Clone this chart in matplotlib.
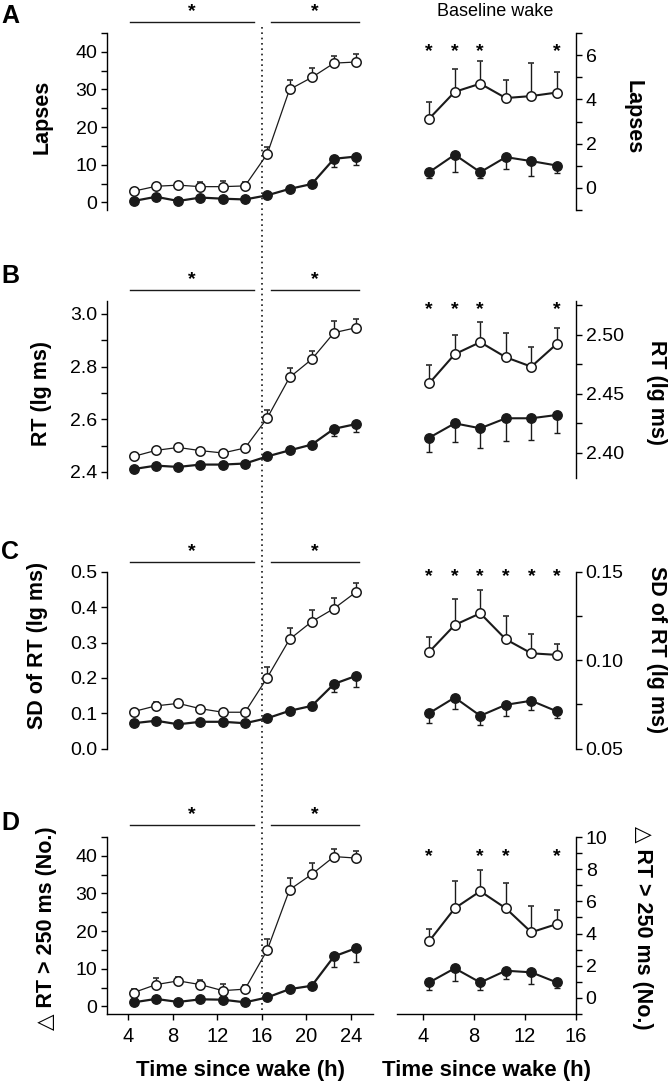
import matplotlib
matplotlib.use('Agg')
import matplotlib.pyplot as plt
from matplotlib.lines import Line2D
from matplotlib.ticker import MultipleLocator, FormatStrFormatter, NullLocator
from matplotlib.transforms import blended_transform_factory

plt.rcParams['font.family'] = ['Liberation Sans', 'DejaVu Sans']

# ---- data ----
hours_l = [4.5, 6.5, 8.5, 10.5, 12.5, 14.5, 16.5, 18.5, 20.5, 22.5, 24.5]
hours_r = [4.5, 6.5, 8.5, 10.5, 12.5, 14.5]

lapses_open = [3.0, 4.3, 4.6, 4.2, 4.2, 4.4, 12.9, 30.0, 33.2, 37.0, 37.3]
lapses_open_err = [0.8, 0.8, 0.9, 1.2, 1.5, 1.0, 1.9, 2.4, 2.4, 1.8, 2.2]
lapses_fill = [0.4, 1.5, 0.4, 1.3, 1.0, 0.8, 1.9, 3.6, 4.9, 11.6, 12.2]
lapses_fill_err = [0.4, 0.6, 0.4, 0.5, 0.5, 0.4, 0.5, 0.6, 0.8, 2.3, 2.3]
lapses_b_open = [3.13, 4.34, 4.71, 4.06, 4.15, 4.31]
lapses_b_open_err = [0.75, 1.05, 1.02, 0.80, 1.50, 0.92]
lapses_b_fill = [0.71, 1.50, 0.71, 1.39, 1.21, 1.01]
lapses_b_fill_err = [0.27, 0.76, 0.27, 0.53, 0.68, 0.35]

rt_open = [2.459, 2.482, 2.493, 2.481, 2.472, 2.491, 2.605, 2.759, 2.828, 2.929, 2.948]
rt_open_err = [0.006, 0.006, 0.006, 0.008, 0.008, 0.006, 0.029, 0.035, 0.032, 0.044, 0.032]
rt_fill = [2.411, 2.424, 2.419, 2.428, 2.428, 2.432, 2.459, 2.482, 2.504, 2.564, 2.582]
rt_fill_err = [0.006, 0.006, 0.008, 0.010, 0.010, 0.008, 0.008, 0.010, 0.012, 0.026, 0.032]
rt_b_open = [2.4589, 2.4836, 2.4938, 2.481, 2.473, 2.4924]
rt_b_open_err = [0.0156, 0.0164, 0.0167, 0.021, 0.0165, 0.0136]
rt_b_fill = [2.4127, 2.4249, 2.4207, 2.4292, 2.4292, 2.432]
rt_b_fill_err = [0.0124, 0.0156, 0.0165, 0.0193, 0.0184, 0.0156]

sd_open = [0.105, 0.121, 0.128, 0.113, 0.103, 0.103, 0.201, 0.309, 0.359, 0.396, 0.443]
sd_open_err = [0.008, 0.010, 0.010, 0.008, 0.006, 0.006, 0.031, 0.033, 0.033, 0.029, 0.024]
sd_fill = [0.072, 0.079, 0.069, 0.076, 0.076, 0.072, 0.086, 0.107, 0.121, 0.183, 0.206]
sd_fill_err = [0.006, 0.006, 0.006, 0.006, 0.006, 0.006, 0.008, 0.010, 0.012, 0.022, 0.031]
sd_b_open = [0.1047, 0.1199, 0.1265, 0.1118, 0.1039, 0.1030]
sd_b_open_err = [0.0086, 0.0145, 0.0132, 0.0132, 0.0108, 0.0060]
sd_b_fill = [0.0701, 0.0789, 0.0686, 0.0748, 0.0771, 0.0711]
sd_b_fill_err = [0.0056, 0.0065, 0.0051, 0.0062, 0.0053, 0.0040]

slow_open = [3.7, 5.8, 6.8, 5.8, 4.2, 4.6, 15.0, 31.0, 35.1, 39.8, 39.4]
slow_open_err = [1.0, 1.7, 0.9, 1.3, 1.7, 1.0, 3.0, 3.1, 3.1, 2.0, 1.8]
slow_fill = [1.1, 2.0, 1.2, 1.9, 1.8, 1.1, 2.4, 4.6, 5.5, 13.3, 15.5]
slow_fill_err = [0.4, 0.5, 0.4, 0.5, 0.5, 0.4, 0.5, 0.6, 0.8, 2.7, 3.7]
slow_b_open = [3.53, 5.57, 6.63, 5.57, 4.08, 4.59]
slow_b_open_err = [0.76, 1.72, 1.33, 1.57, 1.63, 0.86]
slow_b_fill = [0.96, 1.84, 0.96, 1.69, 1.59, 0.96]
slow_b_fill_err = [0.45, 0.78, 0.45, 0.51, 0.73, 0.35]

stars_r = [[1, 1, 1, 0, 0, 1], [1, 1, 1, 0, 0, 1], [1, 1, 1, 1, 1, 1], [1, 0, 1, 1, 0, 1]]
sig_spans = [(4.2, 15.3), (16.8, 24.7)]

letters = ['A', 'B', 'C', 'D']
ylabels = ['Lapses', 'RT (lg ms)', 'SD of RT (lg ms)', '\u25b3 RT > 250 ms (No.)']

# ---- layout (pixels) ----
W, H = 668, 1089
rows = [(33, 210), (300.7, 478), (571.7, 748.7), (837, 1014)]
LX = (107, 373)
RX = (397.3, 576)


def rect(x0, x1, y0, y1):
    return [x0 / W, 1 - y1 / H, (x1 - x0) / W, (y1 - y0) / H]


fig = plt.figure(figsize=(W / 100, H / 100), dpi=100)

left_cfg = [
    dict(ylim=(-2, 45), major=10, minor=5, fmt='%d'),
    dict(ylim=(2.377, 3.0505), major=0.2, minor=0.1, fmt='%.1f'),
    dict(ylim=(0, 0.5), major=0.1, minor=None, fmt='%.1f'),
    dict(ylim=(-2, 45), major=10, minor=5, fmt='%d'),
]
right_cfg = [
    dict(ylim=(-1, 7), major=2, minor=1, fmt='%d'),
    dict(ylim=(2.3785, 2.529), major=0.05, minor=0.025, fmt='%.2f'),
    dict(ylim=(0.05, 0.15), major=0.05, minor=0.025, fmt='%.2f'),
    dict(ylim=(-1, 10), major=2, minor=1, fmt='%d'),
]
left_data = [
    (lapses_open, lapses_open_err, lapses_fill, lapses_fill_err),
    (rt_open, rt_open_err, rt_fill, rt_fill_err),
    (sd_open, sd_open_err, sd_fill, sd_fill_err),
    (slow_open, slow_open_err, slow_fill, slow_fill_err),
]
right_data = [
    (lapses_b_open, lapses_b_open_err, lapses_b_fill, lapses_b_fill_err),
    (rt_b_open, rt_b_open_err, rt_b_fill, rt_b_fill_err),
    (sd_b_open, sd_b_open_err, sd_b_fill, sd_b_fill_err),
    (slow_b_open, slow_b_open_err, slow_b_fill, slow_b_fill_err),
]

# positions of labels and significance marks (pixels from top / left)
bar_y = [22, 290, 562, 825]
star_l_y = [7, 275, 547, 810]
star_r_y = [47, 305, 572, 852]
letter_y = [16, 276, 552, 823]
ylab_l_x = [42, 41, 38, 47]
ylab_l_y = [117, 393, 645, 928]
ylab_r_x = [633, 657, 657, 642]
ylab_r_y = [117, 393, 650, 928]


def style_ticks(ax, cfg, side):
    ax.set_ylim(*cfg['ylim'])
    ax.yaxis.set_major_locator(MultipleLocator(cfg['major']))
    ax.yaxis.set_major_formatter(FormatStrFormatter(cfg['fmt']))
    if cfg['minor']:
        ax.yaxis.set_minor_locator(MultipleLocator(cfg['minor']))
    ax.tick_params(axis='both', which='both', direction='out', length=4.5,
                   width=1, labelsize=14, pad=2.5)
    ax.yaxis.set_ticks_position(side)
    for s in ['top', 'left', 'right', 'bottom']:
        ax.spines[s].set_visible(False)
    ax.spines[side].set_visible(True)
    ax.spines[side].set_linewidth(1)
    ax.patch.set_alpha(0)


def draw_series(ax, x, o, oe, f, fe, lw_open, lw_fill):
    zeros = [0] * len(x)
    ax.errorbar(x, f, yerr=[fe, zeros], fmt='o-', color='#1a1a1a', lw=lw_fill,
                ms=6.8, mfc='#1a1a1a', mec='#1a1a1a', ecolor='#1a1a1a',
                elinewidth=1, capsize=2.5, capthick=1, clip_on=False, zorder=3)
    ax.errorbar(x, o, yerr=[zeros, oe], fmt='o-', color='#1a1a1a', lw=lw_open,
                ms=6.8, mfc='white', mec='#1a1a1a', mew=1.1, ecolor='#1a1a1a',
                elinewidth=1, capsize=2.5, capthick=1, clip_on=False, zorder=3)


left_axes = []
for i in range(4):
    y0, y1 = rows[i]
    axl = fig.add_axes(rect(LX[0], LX[1], y0, y1))
    axr = fig.add_axes(rect(RX[0], RX[1], y0, y1))
    left_axes.append(axl)
    axl.set_xlim(2.1, 26.0)
    axr.set_xlim(2.0, 16.0)
    o, oe, f, fe = left_data[i]
    draw_series(axl, hours_l, o, oe, f, fe, 0.9, 1.6)
    o, oe, f, fe = right_data[i]
    draw_series(axr, hours_r, o, oe, f, fe, 1.5, 1.5)
    style_ticks(axl, left_cfg[i], 'left')
    style_ticks(axr, right_cfg[i], 'right')
    if i == 3:
        for ax, ticks in ((axl, [4, 8, 12, 16, 20, 24]), (axr, [4, 8, 12, 16])):
            ax.spines['bottom'].set_visible(True)
            ax.spines['bottom'].set_linewidth(1)
            ax.set_xticks(ticks)
            ax.xaxis.set_minor_locator(NullLocator())
            ax.tick_params(axis='x', labelsize=14.5, pad=5)
            ax.set_xlabel('Time since wake (h)', fontsize=16, fontweight='bold',
                          labelpad=10)
    else:
        axl.set_xticks([])
        axr.set_xticks([])

    # significance bars (left panels)
    tl = blended_transform_factory(axl.transData, fig.transFigure)
    for a, b in sig_spans:
        fig.add_artist(Line2D([a, b], [1 - bar_y[i] / H] * 2, transform=tl,
                              color='#1a1a1a', lw=1))
        fig.text((a + b) / 2, 1 - (star_l_y[i] + 9) / H, '*', transform=tl,
                 ha='center', va='baseline', fontsize=14, fontweight='bold')
    # stars (right panels)
    tr = blended_transform_factory(axr.transData, fig.transFigure)
    for xx, s in zip(hours_r, stars_r[i]):
        if s:
            fig.text(xx, 1 - (star_r_y[i] + 9) / H, '*', transform=tr,
                     ha='center', va='baseline', fontsize=14, fontweight='bold')

    fig.text(10 / W, 1 - letter_y[i] / H, letters[i], fontsize=18,
             fontweight='bold', ha='center', va='center')
    fig.text(ylab_l_x[i] / W, 1 - ylab_l_y[i] / H, ylabels[i], fontsize=15.5,
             fontweight='bold', rotation=90, ha='center', va='center')
    fig.text(ylab_r_x[i] / W, 1 - ylab_r_y[i] / H, ylabels[i], fontsize=15.5,
             fontweight='bold', rotation=270, ha='center', va='center')

# dotted line at 16 h through the left panels
tdot = blended_transform_factory(left_axes[3].transData, fig.transFigure)
fig.add_artist(Line2D([16, 16], [1 - 27 / H, 1 - 1011 / H], transform=tdot,
                      color='#1a1a1a', lw=1.2, ls=(0, (1, 2.2))))

fig.text(495 / W, 1 - 11 / H, 'Baseline wake', fontsize=13, ha='center',
         va='center')

fig.savefig('out.png', dpi=100)
